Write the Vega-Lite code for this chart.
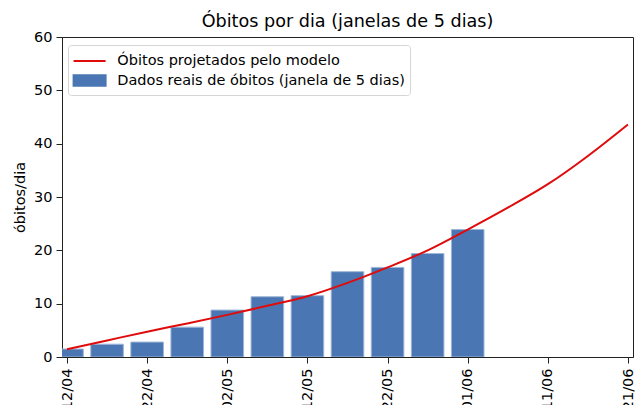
{
  "$schema": "https://vega.github.io/schema/vega-lite/v6.json",
  "width": 571,
  "height": 320,
  "autosize": "none",
  "padding": {"left": 62, "top": 37, "right": 5, "bottom": 48},
  "background": "white",
  "config": {
    "font": "DejaVu Sans",
    "view": {"stroke": "#222", "strokeWidth": 1},
    "axis": {"domainColor": "#222", "tickColor": "#222", "labelColor": "#000", "titleColor": "#000", "labelFontSize": 14.5, "titleFontSize": 14.5, "titleFontWeight": "normal", "grid": false, "tickSize": 6, "domainWidth": 1, "tickWidth": 1}
  },
  "title": {"text": "Óbitos por dia (janelas de 5 dias)", "fontSize": 17.6, "fontWeight": "normal", "color": "#000", "frame": "group", "baseline": "alphabetic", "offset": -16},
  "datasets": {
    "reais": [
      {"data": "2020-04-12", "obitos": 1.5},
      {"data": "2020-04-17", "obitos": 2.4},
      {"data": "2020-04-22", "obitos": 2.8},
      {"data": "2020-04-27", "obitos": 5.6},
      {"data": "2020-05-02", "obitos": 8.8},
      {"data": "2020-05-07", "obitos": 11.3},
      {"data": "2020-05-12", "obitos": 11.5},
      {"data": "2020-05-17", "obitos": 16.0},
      {"data": "2020-05-22", "obitos": 16.8},
      {"data": "2020-05-27", "obitos": 19.4},
      {"data": "2020-06-01", "obitos": 23.9}
    ],
    "modelo": [
      {"data": "2020-04-12", "obitos": 1.45},
      {"data": "2020-04-17", "obitos": 3.1},
      {"data": "2020-04-22", "obitos": 4.75},
      {"data": "2020-04-27", "obitos": 6.3},
      {"data": "2020-05-02", "obitos": 7.9},
      {"data": "2020-05-07", "obitos": 9.6},
      {"data": "2020-05-12", "obitos": 11.4},
      {"data": "2020-05-17", "obitos": 13.9},
      {"data": "2020-05-22", "obitos": 16.8},
      {"data": "2020-05-27", "obitos": 20.0},
      {"data": "2020-06-01", "obitos": 23.9},
      {"data": "2020-06-06", "obitos": 28.0},
      {"data": "2020-06-11", "obitos": 32.4},
      {"data": "2020-06-16", "obitos": 37.7},
      {"data": "2020-06-21", "obitos": 43.6}
    ]
  },
  "encoding": {
    "x": {
      "field": "data", "type": "temporal",
      "scale": {"type": "utc", "domain": [{"year": 2020, "month": 4, "date": 12, "utc": true}, {"year": 2020, "month": 6, "date": 21, "utc": true}], "nice": false},
      "axis": {
        "title": null, "format": "%d/%m", "labelAngle": 270, "labelPadding": 5, "labelBaseline": "middle", "labelAlign": "right",
        "values": [
          {"year": 2020, "month": 4, "date": 12, "utc": true},
          {"year": 2020, "month": 4, "date": 22, "utc": true},
          {"year": 2020, "month": 5, "date": 2, "utc": true},
          {"year": 2020, "month": 5, "date": 12, "utc": true},
          {"year": 2020, "month": 5, "date": 22, "utc": true},
          {"year": 2020, "month": 6, "date": 1, "utc": true},
          {"year": 2020, "month": 6, "date": 11, "utc": true},
          {"year": 2020, "month": 6, "date": 21, "utc": true}
        ],
        "labelOverlap": false, "labelFlush": false
      }
    },
    "y": {
      "field": "obitos", "type": "quantitative",
      "scale": {"domain": [0, 60], "nice": false},
      "axis": {"title": "óbitos/dia", "values": [0, 10, 20, 30, 40, 50, 60], "labelPadding": 4, "titlePadding": 6}
    },
    "color": {
      "scale": {"domain": ["Óbitos projetados pelo modelo", "Dados reais de óbitos (janela de 5 dias)"], "range": ["#e00b0b", "#4a77b3"]},
      "legend": {
        "title": null, "orient": "none", "legendX": 6, "legendY": 8,
        "labelFontSize": 14.5, "labelColor": "#000", "labelLimit": 400,
        "symbolSize": 400, "symbolOffset": 5.6, "labelOffset": 16.7, "rowPadding": 1.5, "padding": 5,
        "fillColor": "rgba(255,255,255,0.8)", "strokeColor": "#d5d5d5", "cornerRadius": 3,
        "encode": {
          "symbols": {
            "update": {
              "shape": {"signal": "datum.value === 'Óbitos projetados pelo modelo' ? 'M-1.6,0H1.6' : 'M-1.6,-0.52H1.6V0.52H-1.6Z'"},
              "fill": {"signal": "datum.value === 'Óbitos projetados pelo modelo' ? 'transparent' : '#4a77b3'"},
              "stroke": {"signal": "datum.value === 'Óbitos projetados pelo modelo' ? '#e00b0b' : 'transparent'"},
              "strokeWidth": {"value": 2},
              "opacity": {"value": 1}
            }
          }
        }
      }
    }
  },
  "layer": [
    {
      "data": {"name": "reais"},
      "mark": {"type": "bar", "width": 32.6, "clip": true, "stroke": "#9fb6d8", "strokeWidth": 1},
      "encoding": {"color": {"datum": "Dados reais de óbitos (janela de 5 dias)"}}
    },
    {
      "data": {"name": "modelo"},
      "mark": {"type": "line", "strokeWidth": 2, "interpolate": "monotone", "clip": true},
      "encoding": {"color": {"datum": "Óbitos projetados pelo modelo"}}
    }
  ]
}
